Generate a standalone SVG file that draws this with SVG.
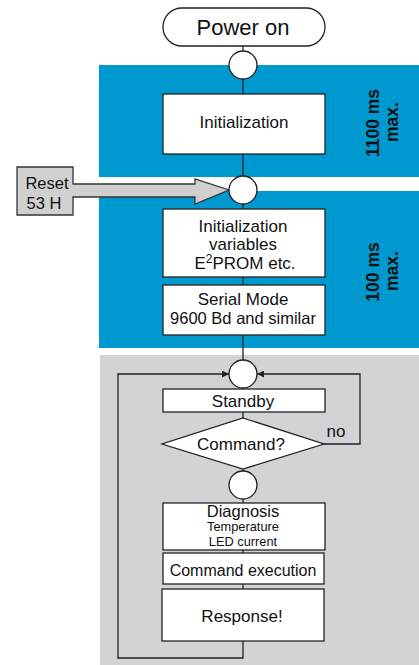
<svg xmlns="http://www.w3.org/2000/svg" width="419" height="665" viewBox="0 0 419 665">
<style>
.t{font-family:"Liberation Sans",Arial,sans-serif;font-size:17px;fill:#111;text-anchor:middle}
.b{font-family:"Liberation Sans",Arial,sans-serif;font-size:17.5px;font-weight:bold;fill:#111;text-anchor:middle}
.s{font-size:12.8px}
.box{fill:#fff;stroke:#222;stroke-width:1.3}
.ln{fill:none;stroke:#222;stroke-width:1.3}
</style>
<defs>
<marker id="ah" viewBox="0 0 10 10" refX="10" refY="5" markerWidth="7" markerHeight="7" orient="auto" markerUnits="userSpaceOnUse">
<path d="M0,0 L10,5 L0,10 z" fill="#222"/>
</marker>
</defs>
<g id="bands">
<rect x="99" y="65" width="320" height="112" fill="#0099cf"/>
<rect x="99" y="191" width="320" height="157" fill="#0099cf"/>
<rect x="100" y="355" width="319" height="310" fill="#d2d3d5"/>
<text class="b" transform="translate(379,123) rotate(-90)">1100 ms</text>
<text class="b" transform="translate(398,122) rotate(-90)">max.</text>
<text class="b" transform="translate(379,272) rotate(-90)">100 ms</text>
<text class="b" transform="translate(398,271) rotate(-90)">max.</text>
</g>
<g id="connectors">
<line class="ln" x1="243" y1="46" x2="243" y2="641"/>
<polyline class="ln" points="243,641 243,658 118,658 118,374 229,374" marker-end="url(#ah)"/>
<polyline class="ln" points="324,444 360,444 360,374 257,374" marker-end="url(#ah)"/>
</g>
<g id="power-on">
<rect class="box" x="163" y="8" width="162" height="38" rx="19"/>
<text class="t" x="243" y="35" style="font-size:22px">Power on</text>
</g>
<g id="c1"><circle class="box" cx="243" cy="65" r="14"/></g>
<g id="init">
<rect class="box" x="163" y="94" width="162" height="60"/>
<text class="t" x="244" y="128">Initialization</text>
</g>
<g id="reset">
<polygon points="17,167 73,167 73,184 195,184 195,179 229,190 195,204 195,197 73,197 73,215 17,215" fill="#d0d0d0" stroke="#333" stroke-width="1.3"/>
<text class="t" x="47" y="189" style="font-size:16.5px">Reset</text>
<text class="t" x="44" y="209" style="font-size:16.5px">53 H</text>
</g>
<g id="c2"><circle class="box" cx="243" cy="190" r="14"/></g>
<g id="init-vars">
<rect class="box" x="163" y="209" width="162" height="68"/>
<text class="t" x="243" y="232">Initialization</text>
<text class="t" x="243" y="250">variables</text>
<text class="t" x="245" y="269">E<tspan dy="-6" style="font-size:12px">2</tspan><tspan dy="6">PROM etc.</tspan></text>
</g>
<g id="serial">
<rect class="box" x="163" y="285" width="162" height="50"/>
<text class="t" x="243" y="305">Serial Mode</text>
<text class="t" x="243" y="324" style="font-size:16.5px">9600 Bd and similar</text>
</g>
<g id="c3"><circle class="box" cx="243" cy="374" r="14"/></g>
<g id="standby">
<rect class="box" x="163" y="389" width="162" height="23"/>
<text class="t" x="243" y="407">Standby</text>
</g>
<g id="command">
<polygon class="box" points="243,418 324,444 243,469 162,444"/>
<text class="t" x="241" y="450">Command?</text>
<text class="t" x="336" y="437">no</text>
</g>
<g id="c4"><circle class="box" cx="243" cy="485" r="14"/></g>
<g id="diagnosis">
<rect class="box" x="163" y="503" width="162" height="47"/>
<text class="t" x="243" y="517" style="font-size:16.5px">Diagnosis</text>
<text class="t s" x="243" y="531">Temperature</text>
<text class="t s" x="243" y="545.5">LED current</text>
</g>
<g id="exec">
<rect class="box" x="163" y="553" width="161" height="31"/>
<text class="t" x="243" y="576" style="font-size:16px">Command execution</text>
</g>
<g id="response">
<rect class="box" x="162" y="589" width="162" height="52"/>
<text class="t" x="242" y="622">Response!</text>
</g>
</svg>
